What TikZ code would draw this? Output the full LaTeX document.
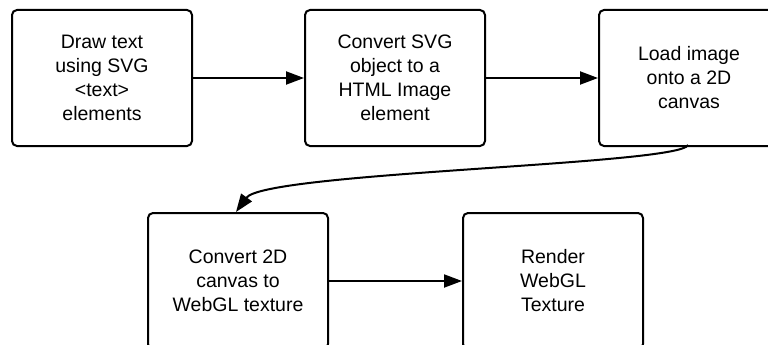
\documentclass[tikz,border=0pt]{standalone}
\usepackage{fontspec}
\setmainfont{Liberation Sans}
\usetikzlibrary{arrows.meta}
\begin{document}
\begin{tikzpicture}[x=1pt,y=-1pt,
  stepbox/.style={draw,line width=2pt,rounded corners=5pt,minimum width=180pt,minimum height=136pt,align=center,font=\fontsize{19.5}{24}\selectfont,anchor=north west,inner sep=0pt},
  conn/.style={line width=2pt,-{Triangle[length=18pt,width=13pt]}}]
\useasboundingbox (0,0) rectangle (768,345);
\node[stepbox] (a) at (11,9) {Draw text\\using SVG\\<text>\\elements};
\node[stepbox] (b) at (304,9) {Convert SVG\\object to a\\HTML Image\\element};
\node[stepbox] (c) at (598,9) {Load image\\onto a 2D\\canvas};
\node[stepbox] (d) at (147,212) {Convert 2D\\canvas to\\WebGL texture};
\node[stepbox] (e) at (462,212) {Render\\WebGL\\Texture};
\draw[conn] (a.east) -- (b.west);
\draw[conn] (b.east) -- (c.west);
\draw[conn] (d.east) -- (e.west);
\coordinate (cs) at (688,145);
\coordinate (de) at (236,212);
\draw[conn] (cs) .. controls (680,165) and (265,172) .. (de);
\end{tikzpicture}
\end{document}
